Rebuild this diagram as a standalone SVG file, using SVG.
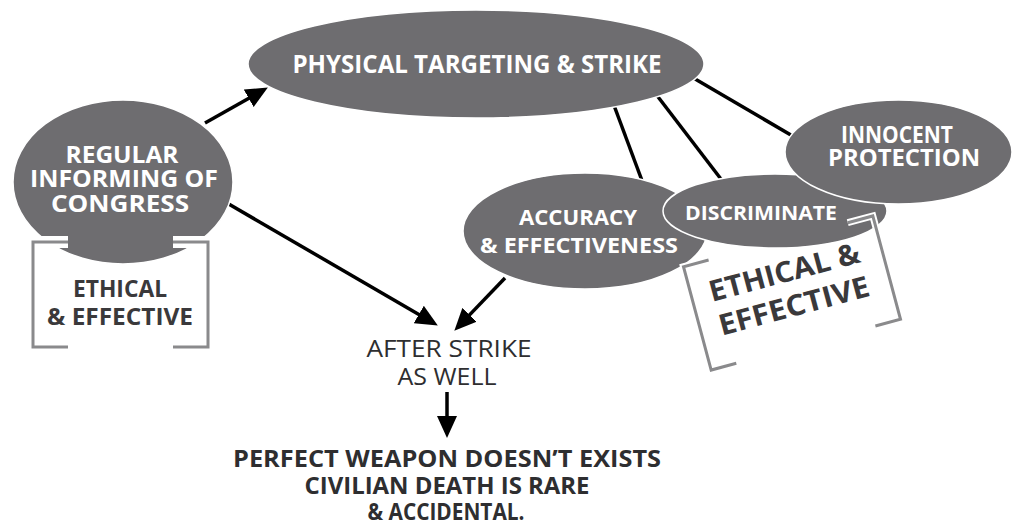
<svg xmlns="http://www.w3.org/2000/svg" width="1018" height="526" viewBox="0 0 1018 526">
<defs>
<marker id="ah" viewBox="0 0 22 20" refX="17" refY="10" markerWidth="22" markerHeight="20" markerUnits="userSpaceOnUse" orient="auto">
<path d="M0,0 L22,10 L0,20 Z" fill="#000"/>
</marker>
<style>
.node{fill:#6e6d70;stroke:#fff;stroke-width:1.5}
.w{fill:#fff;font-family:"Open Sans","Liberation Sans",sans-serif;font-weight:700;text-anchor:middle}
.d{fill:#3a393b;font-family:"Open Sans","Liberation Sans",sans-serif;font-weight:700;text-anchor:middle}
.k{fill:#2e2e30;font-family:"Open Sans","Liberation Sans",sans-serif;font-weight:700;text-anchor:middle}
.r{fill:#2e2e30;font-family:"Open Sans","Liberation Sans",sans-serif;font-weight:400;text-anchor:middle}
.ln{stroke:#000;stroke-width:3.5;fill:none}
.arr{stroke:#000;stroke-width:3.5;fill:none;marker-end:url(#ah)}
.halo{stroke:#fff;stroke-width:12;fill:none}
.halo2{stroke:#fff;stroke-width:7;fill:none}
.br{stroke:#8a8a8c;stroke-width:3;fill:none}
</style>
</defs>
<rect width="1018" height="526" fill="#fff"/>

<g id="connectors">
<line class="ln" x1="612" y1="100" x2="644" y2="186"/>
<line class="ln" x1="652" y1="89" x2="724" y2="183"/>
<line class="ln" x1="690" y1="76" x2="796" y2="138"/>
<line class="arr" x1="205" y1="123" x2="263.5" y2="90"/>
<line class="arr" x1="227" y1="203" x2="433.5" y2="323"/>
<line class="arr" x1="505" y1="278" x2="457.8" y2="327.1"/>
<line class="arr" x1="447" y1="392" x2="447" y2="433"/>
</g>

<g id="physical">
<ellipse class="node" cx="476" cy="64" rx="228" ry="54"/>
<text class="w" x="477" y="73" font-size="25" textLength="369" lengthAdjust="spacingAndGlyphs">PHYSICAL TARGETING &amp; STRIKE</text>
</g>

<g id="regular">
<ellipse class="node" cx="123" cy="182" rx="110" ry="82"/>
<text class="w" x="122" y="163" font-size="24" textLength="113" lengthAdjust="spacingAndGlyphs">REGULAR</text>
<text class="w" x="124" y="187" font-size="24" textLength="188" lengthAdjust="spacingAndGlyphs">INFORMING OF</text>
<text class="w" x="120" y="212" font-size="24" textLength="138" lengthAdjust="spacingAndGlyphs">CONGRESS</text>
</g>

<g id="ethical-left">
<path class="halo" d="M68,242 H33 V347 H68 M173,242 H208 V347 H173"/>
<path class="br" d="M68,242 H33 V347 H68 M173,242 H208 V347 H173"/>
<text class="d" x="120" y="297" font-size="24" textLength="94" lengthAdjust="spacingAndGlyphs">ETHICAL</text>
<text class="d" x="120" y="325" font-size="24" textLength="146" lengthAdjust="spacingAndGlyphs">&amp; EFFECTIVE</text>
</g>

<g id="accuracy">
<ellipse class="node" cx="585" cy="231" rx="122" ry="58"/>
<text class="w" x="578" y="225" font-size="21" textLength="118" lengthAdjust="spacingAndGlyphs">ACCURACY</text>
<text class="w" x="579" y="253" font-size="21" textLength="198" lengthAdjust="spacingAndGlyphs">&amp; EFFECTIVENESS</text>
</g>

<g id="discriminate">
<ellipse class="node" cx="775" cy="211" rx="112" ry="37"/>
<text class="w" x="761" y="220" font-size="20" textLength="152" lengthAdjust="spacingAndGlyphs">DISCRIMINATE</text>
</g>

<g id="innocent">
<ellipse class="node" cx="898.5" cy="152" rx="113.5" ry="52"/>
<text class="w" x="897" y="143" font-size="24" textLength="112" lengthAdjust="spacingAndGlyphs">INNOCENT</text>
<text class="w" x="904" y="166" font-size="24" textLength="152" lengthAdjust="spacingAndGlyphs">PROTECTION</text>
</g>

<g id="ethical-right" transform="rotate(-15 792 293)">
<path class="halo2" d="M720,239.5 H694 V346.5 H720 M864,239.5 H890 V346.5 H864"/>
<path class="br" d="M720,239.5 H694 V346.5 H720 M864,239.5 H890 V346.5 H864"/>
<text class="d" x="790" y="281" font-size="29" textLength="155" lengthAdjust="spacingAndGlyphs">ETHICAL &amp;</text>
<text class="d" x="790.5" y="316" font-size="29" textLength="155" lengthAdjust="spacingAndGlyphs">EFFECTIVE</text>
</g>

<g id="after-strike">
<text class="r" x="449" y="357" font-size="23" textLength="165" lengthAdjust="spacingAndGlyphs">AFTER STRIKE</text>
<text class="r" x="447" y="385" font-size="23" textLength="99" lengthAdjust="spacingAndGlyphs">AS WELL</text>
</g>

<g id="conclusion">
<text class="k" x="447" y="467" font-size="24" textLength="428" lengthAdjust="spacingAndGlyphs">PERFECT WEAPON DOESN’T EXISTS</text>
<text class="k" x="447" y="494" font-size="24" textLength="285" lengthAdjust="spacingAndGlyphs">CIVILIAN DEATH IS RARE</text>
<text class="k" x="446" y="520" font-size="24" textLength="157" lengthAdjust="spacingAndGlyphs">&amp; ACCIDENTAL.</text>
</g>
</svg>
